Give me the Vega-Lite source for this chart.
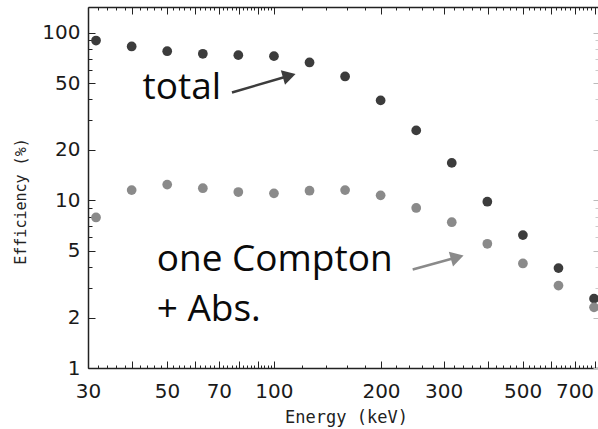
{
  "$schema": "https://vega.github.io/schema/vega-lite/v6.json",
  "width": 510,
  "height": 361,
  "autosize": {"type": "none"},
  "padding": {"left": 88, "top": 7, "right": 0, "bottom": 61},
  "background": "white",
  "config": {
    "view": {"stroke": null},
    "axis": {
      "grid": false,
      "labelFont": "DejaVu Sans",
      "labelFontSize": 20,
      "labelColor": "#1a1a1a",
      "domainColor": "#222222",
      "tickColor": "#222222",
      "labelOverlap": false,
      "labelBound": false,
      "labelFlush": false,
      "domainWidth": 1.5,
      "tickWidth": 1
    }
  },
  "resolve": {"axis": {"x": "independent", "y": "independent"}},
  "layer": [
    {
      "data": {"values": [
        {"E": 31.6, "eff": 89.6, "series": "total"},
        {"E": 39.8, "eff": 82.6, "series": "total"},
        {"E": 50.1, "eff": 77.4, "series": "total"},
        {"E": 63.1, "eff": 74.7, "series": "total"},
        {"E": 79.4, "eff": 73.3, "series": "total"},
        {"E": 100, "eff": 72.3, "series": "total"},
        {"E": 125.9, "eff": 66.3, "series": "total"},
        {"E": 158.5, "eff": 54.7, "series": "total"},
        {"E": 199.5, "eff": 39.4, "series": "total"},
        {"E": 251.2, "eff": 26.1, "series": "total"},
        {"E": 316.2, "eff": 16.7, "series": "total"},
        {"E": 398.1, "eff": 9.8, "series": "total"},
        {"E": 501.2, "eff": 6.2, "series": "total"},
        {"E": 631.0, "eff": 3.94, "series": "total"},
        {"E": 794.3, "eff": 2.59, "series": "total"},
        {"E": 31.6, "eff": 7.9, "series": "compton"},
        {"E": 39.8, "eff": 11.5, "series": "compton"},
        {"E": 50.1, "eff": 12.4, "series": "compton"},
        {"E": 63.1, "eff": 11.8, "series": "compton"},
        {"E": 79.4, "eff": 11.2, "series": "compton"},
        {"E": 100, "eff": 11.0, "series": "compton"},
        {"E": 125.9, "eff": 11.4, "series": "compton"},
        {"E": 158.5, "eff": 11.5, "series": "compton"},
        {"E": 199.5, "eff": 10.7, "series": "compton"},
        {"E": 251.2, "eff": 9.0, "series": "compton"},
        {"E": 316.2, "eff": 7.4, "series": "compton"},
        {"E": 398.1, "eff": 5.5, "series": "compton"},
        {"E": 501.2, "eff": 4.2, "series": "compton"},
        {"E": 631.0, "eff": 3.1, "series": "compton"},
        {"E": 794.3, "eff": 2.3, "series": "compton"}
      ]},
      "mark": {"type": "point", "filled": true, "opacity": 1, "size": 95, "shape": "circle"},
      "encoding": {
        "x": {"field": "E", "type": "quantitative",
          "scale": {"type": "log", "domain": [30, 815], "nice": false},
          "axis": {"orient": "bottom",
            "values": [30,40,50,60,70,80,90,100,200,300,400,500,600,700,800],
            "tickSize": -7, "labelPadding": 20,
            "labelExpr": "indexof([30,50,70,100,200,300,500,700], datum.value) >= 0 ? format(datum.value, 'd') : ''",
            "title": "Energy (keV)", "titleFont": "DejaVu Sans Mono", "titleFontSize": 17,
            "titleFontWeight": "normal", "titleColor": "#222222",
            "titleX": 258, "titleY": 54, "titleBaseline": "alphabetic", "titleAlign": "center"}},
        "y": {"field": "eff", "type": "quantitative",
          "scale": {"type": "log", "domain": [1, 142], "nice": false},
          "axis": {"orient": "left",
            "values": [1,2,5,10,20,50,100],
            "tickSize": -7, "labelPadding": 15,
            "labelExpr": "format(datum.value, 'd')",
            "title": "Efficiency (%)", "titleFont": "DejaVu Sans Mono", "titleFontSize": 15,
            "titleFontWeight": "normal", "titleColor": "#222222",
            "titleX": -68, "titleY": 194, "titleAngle": 270, "titleBaseline": "middle", "titleAlign": "center"}},
        "color": {"field": "series", "type": "nominal",
          "scale": {"domain": ["total", "compton"], "range": ["#3c3c3c", "#8a8a8a"]},
          "legend": null}
      }
    },
    {
      "data": {"values": [
        {"label": "total", "E": 42.7, "eff": 40.2},
        {"label": "one Compton", "E": 46.8, "eff": 3.8},
        {"label": "+ Abs.", "E": 46.8, "eff": 1.91}
      ]},
      "mark": {"type": "text", "font": "Open Sans", "fontSize": 37, "fontWeight": 500, "align": "left", "baseline": "alphabetic", "color": "#0a0a0a"},
      "encoding": {
        "x": {"field": "E", "type": "quantitative",
          "scale": {"type": "log", "domain": [30, 815], "nice": false},
          "axis": {"orient": "bottom",
            "values": [32,34,36,38,42,44,46,48,52,54,56,58,62,64,66,68,72,74,76,78,82,84,86,88,92,94,96,98,120,140,160,180,220,240,260,280,320,340,360,380,420,440,460,480,520,540,560,580,620,640,660,680,720,740,760,780],
            "tickSize": -3, "labels": false, "domain": false, "title": null}},
        "y": {"field": "eff", "type": "quantitative",
          "scale": {"type": "log", "domain": [1, 142], "nice": false},
          "axis": {"orient": "left",
            "values": [3,4,6,7,8,9,30,40,60,70,80,90],
            "tickSize": -4, "labels": false, "domain": false, "title": null}},
        "text": {"field": "label", "type": "nominal"}
      }
    },
    {
      "data": {"values": [
        {"series": "total", "E0": 76.2, "f0": 43.9, "E1": 110.4, "f1": 55.3},
        {"series": "compton", "E0": 245.5, "f0": 3.87, "E1": 327.6, "f1": 4.57}
      ]},
      "mark": {"type": "rule", "strokeWidth": 2.5},
      "encoding": {
        "x": {"field": "E0", "type": "quantitative",
          "scale": {"type": "log", "domain": [30, 815], "nice": false},
          "axis": {"orient": "top",
            "values": [30,40,50,60,70,80,90,100,200,300,400,500,600,700,800],
            "tickSize": -7, "labels": false, "title": null}},
        "y": {"field": "f0", "type": "quantitative",
          "scale": {"type": "log", "domain": [1, 142], "nice": false},
          "axis": {"orient": "right",
            "values": [1,2,5,10,20,50,100],
            "tickSize": -5, "labels": false, "domain": false, "tickColor": "#bbbbbb", "title": null}},
        "x2": {"field": "E1"},
        "y2": {"field": "f1"},
        "color": {"field": "series", "type": "nominal", "legend": null}
      }
    },
    {
      "data": {"values": [
        {"series": "total", "E1": 110.4, "f1": 55.3},
        {"series": "compton", "E1": 327.6, "f1": 4.57}
      ]},
      "mark": {"type": "point", "shape": "triangle-right", "filled": true, "opacity": 1, "size": 230, "angle": -16},
      "encoding": {
        "x": {"field": "E1", "type": "quantitative",
          "scale": {"type": "log", "domain": [30, 815], "nice": false},
          "axis": {"orient": "top",
            "values": [32,34,36,38,42,44,46,48,52,54,56,58,62,64,66,68,72,74,76,78,82,84,86,88,92,94,96,98,120,140,160,180,220,240,260,280,320,340,360,380,420,440,460,480,520,540,560,580,620,640,660,680,720,740,760,780],
            "tickSize": -3, "labels": false, "domain": false, "title": null}},
        "y": {"field": "f1", "type": "quantitative",
          "scale": {"type": "log", "domain": [1, 142], "nice": false},
          "axis": {"orient": "right",
            "values": [3,4,6,7,8,9,30,40,60,70,80,90],
            "tickSize": -3, "labels": false, "domain": false, "tickColor": "#cccccc", "title": null}},
        "color": {"field": "series", "type": "nominal", "legend": null}
      }
    }
  ]
}
